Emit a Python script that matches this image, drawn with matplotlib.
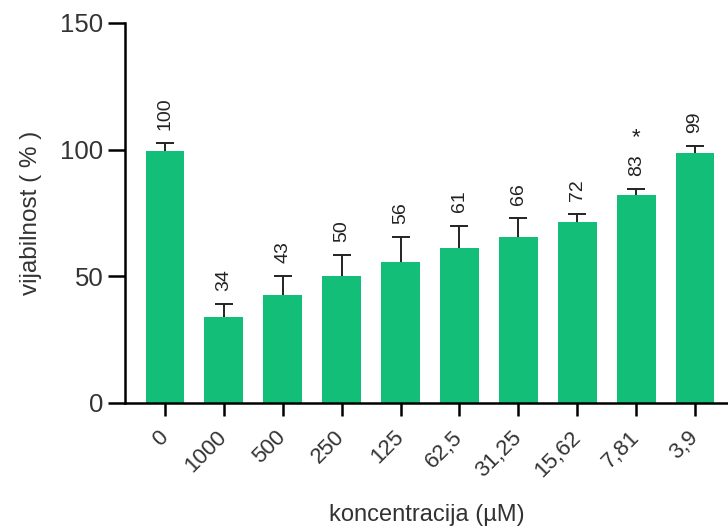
import matplotlib
matplotlib.use('Agg')
import matplotlib.pyplot as plt
import numpy as np

plt.rcParams['font.family'] = ['Liberation Sans', 'DejaVu Sans']

# data
concentrations = ['0', '1000', '500', '250', '125', '62,5', '31,25', '15,62', '7,81', '3,9']
viability = [99.5, 34, 42.5, 50, 55.5, 61, 65.5, 71.5, 82, 98.5]
errors = [3, 5, 7.5, 8.5, 10, 9, 7.5, 3, 2.5, 3]
value_labels = ['100', '34', '43', '50', '56', '61', '66', '72', '83', '99']
significant = [False, False, False, False, False, False, False, False, True, False]

bar_color = '#12be78'
text_color = '#333333'
line_color = '#222222'

fig = plt.figure(figsize=(7.28, 5.31), dpi=100, facecolor='white')
ax = fig.add_axes([125 / 728, 128 / 531, 603 / 728, 380 / 531])

x = np.arange(len(concentrations))
tops = np.array(viability) + np.array(errors)
ax.bar(x, viability, width=0.66, color=bar_color, zorder=2)
# upper error only: stem + cap, no cap on the bar itself
ax.vlines(x, viability, tops, color=line_color, linewidth=1.4, zorder=3)
ax.plot(x, tops, linestyle='none', marker='_', markersize=13,
        markeredgewidth=1.4, color=line_color, zorder=3)

for xi, t, lab, sig in zip(x, tops, value_labels, significant):
    ax.annotate(lab, (xi, t), xytext=(0, 9.5), textcoords='offset points',
                rotation=90, ha='center', va='bottom', fontsize=14,
                color=line_color)
    if sig:
        ax.annotate('*', (xi, t), xytext=(0, 29), textcoords='offset points',
                    ha='center', va='bottom', fontsize=16, color=line_color)

ax.set_xlim(-0.68, 9.56)
ax.set_ylim(0, 150)
ax.set_yticks([0, 50, 100, 150])
ax.set_xticks(x)
ax.set_xticklabels(concentrations, rotation=45, ha='right', va='center',
                   rotation_mode='anchor', fontsize=16, color=text_color)
ax.tick_params(axis='x', length=9.5, width=1.8, pad=13)
ax.tick_params(axis='y', length=12.5, width=1.8, pad=3, labelsize=18.5,
               labelcolor=text_color)

for side in ['top', 'right']:
    ax.spines[side].set_visible(False)
for side in ['left', 'bottom']:
    ax.spines[side].set_linewidth(1.8)

ax.set_ylabel('vijabilnost ( % )', fontsize=17.5, color=text_color)
ax.yaxis.set_label_coords(-0.138, 0.5)
ax.set_xlabel('koncentracija (µM)', fontsize=17, color=text_color, va='top')
ax.xaxis.set_label_coords(0.5, -0.267)

plt.savefig('out.png', dpi=100, facecolor='white')
